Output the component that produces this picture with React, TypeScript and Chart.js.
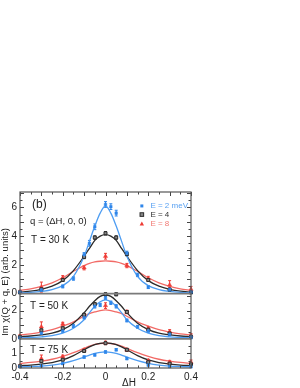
import React, { useEffect, useRef } from "react";
import { Chart, registerables } from "chart.js";

Chart.register(...registerables);

// ---------- data ----------
const X_TICKS = [-0.4, -0.2, 0, 0.2, 0.4];
const X_TICK_LABELS = ["-0.4", "-0.2", "0", "0.2", "0.4"];
const Y30_TICKS = [0, 2, 4, 6];
const Y50_TICKS = [0, 1, 2];
const Y75_TICKS = [0, 1];

// fit-curve sampling positions
const curveH = [-0.4, -0.35, -0.3, -0.25, -0.2, -0.15, -0.1, -0.075, -0.05, -0.025, 0, 0.025, 0.05, 0.075, 0.1, 0.15, 0.2, 0.25, 0.3, 0.35, 0.4];

// T = 30 K
const blue30H = [-0.4, -0.3, -0.2, -0.15, -0.1, -0.075, -0.05, 0, 0.025, 0.05, 0.1, 0.15, 0.2, 0.3, 0.4];
const blue30V = [0.1, 0.25, 0.5, 1.05, 2.7, 3.5, 4.65, 6.2, 6.05, 5.6, 2.8, 1.3, 0.45, 0.28, 0.11];
const blue30E = [0.08, 0.08, 0.1, 0.12, 0.15, 0.2, 0.2, 0.2, 0.2, 0.2, 0.15, 0.12, 0.1, 0.08, 0.08];
const black30H = [-0.4, -0.3, -0.2, -0.1, -0.05, 0, 0.05, 0.1, 0.2, 0.3, 0.4];
const black30V = [0.08, 0.3, 0.95, 2.55, 3.9, 4.2, 3.9, 2.75, 0.95, 0.28, 0.08];
const black30E = [0.08, 0.1, 0.1, 0.12, 0.12, 0.12, 0.12, 0.12, 0.1, 0.1, 0.08];
const red30H = [-0.4, -0.3, -0.2, -0.1, 0, 0.1, 0.2, 0.3, 0.4];
const red30V = [0.12, 0.45, 1.1, 1.8, 2.6, 1.95, 1.05, 0.6, 0.3];
const red30E = [0.1, 0.35, 0.15, 0.15, 0.2, 0.15, 0.15, 0.3, 0.2];
const blue30Fit = [0.05, 0.08, 0.15, 0.28, 0.55, 1.2, 2.6, 3.65, 4.7, 5.6, 6.1, 5.6, 4.7, 3.65, 2.6, 1.2, 0.55, 0.28, 0.15, 0.08, 0.05];
const black30Fit = [0.1, 0.17, 0.3, 0.52, 0.9, 1.6, 2.6, 3.15, 3.7, 4.0, 4.1, 4.0, 3.7, 3.15, 2.6, 1.6, 0.9, 0.52, 0.3, 0.17, 0.1];
const red30Fit = [0.22, 0.33, 0.5, 0.75, 1.1, 1.55, 1.95, 2.1, 2.2, 2.25, 2.27, 2.25, 2.2, 2.1, 1.95, 1.55, 1.1, 0.75, 0.5, 0.33, 0.22];

// T = 50 K
const blue50H = [-0.4, -0.3, -0.2, -0.15, -0.1, -0.05, -0.025, 0, 0.025, 0.05, 0.1, 0.15, 0.2, 0.3, 0.4];
const blue50V = [0.08, 0.4, 0.55, 0.9, 1.5, 2.3, 2.4, 2.9, 2.55, 2.3, 1.3, 0.85, 0.55, 0.3, 0.12];
const blue50E = [0.08, 0.08, 0.08, 0.1, 0.1, 0.12, 0.12, 0.12, 0.12, 0.12, 0.1, 0.1, 0.08, 0.08, 0.12];
const black50H = [-0.4, -0.3, -0.2, -0.1, -0.05, 0, 0.05, 0.1, 0.2, 0.3, 0.4];
const black50V = [0.12, 0.6, 0.75, 1.7, 2.45, 3.15, 3.15, 1.9, 0.65, 0.38, 0.15];
const black50E = [0.08, 0.1, 0.1, 0.1, 0.1, 0.1, 0.1, 0.1, 0.1, 0.08, 0.08];
const red50H = [-0.4, -0.3, -0.2, -0.1, 0, 0.1, 0.2, 0.3, 0.4];
const red50V = [0.2, 0.85, 1.05, 1.65, 2.35, 1.9, 0.75, 0.5, 0.25];
const red50E = [0.1, 0.35, 0.12, 0.12, 0.2, 0.12, 0.12, 0.15, 0.12];
const blue50Fit = [0.07, 0.1, 0.14, 0.22, 0.4, 0.75, 1.35, 1.85, 2.3, 2.62, 2.75, 2.62, 2.3, 1.85, 1.35, 0.75, 0.4, 0.22, 0.14, 0.1, 0.07];
const black50Fit = [0.15, 0.2, 0.28, 0.4, 0.65, 1.1, 1.85, 2.3, 2.7, 3.0, 3.1, 3.0, 2.7, 2.3, 1.85, 1.1, 0.65, 0.4, 0.28, 0.2, 0.15];
const red50Fit = [0.27, 0.35, 0.48, 0.65, 0.9, 1.2, 1.6, 1.78, 1.9, 2.0, 2.05, 2.0, 1.9, 1.78, 1.6, 1.2, 0.9, 0.65, 0.48, 0.35, 0.27];

// T = 75 K
const blue75H = [-0.4, -0.3, -0.2, -0.1, -0.05, 0, 0.05, 0.1, 0.2, 0.3, 0.4];
const blue75V = [0.1, 0.15, 0.3, 0.75, 0.9, 1.1, 1.25, 0.65, 0.2, 0.1, 0.1];
const blue75E = [0.06, 0.06, 0.06, 0.08, 0.08, 0.08, 0.08, 0.08, 0.06, 0.06, 0.08];
const black75H = [-0.4, -0.3, -0.2, -0.1, 0, 0.1, 0.2, 0.3, 0.4];
const black75V = [0.12, 0.47, 0.57, 1.17, 1.7, 1.25, 0.4, 0.3, 0.25];
const black75E = [0.06, 0.08, 0.08, 0.08, 0.08, 0.08, 0.08, 0.08, 0.08];
const red75H = [-0.4, -0.3, -0.2, -0.1, 0, 0.1, 0.2, 0.3, 0.4];
const red75V = [0.15, 0.64, 0.78, 1.24, 1.72, 1.24, 0.5, 0.4, 0.4];
const red75E = [0.08, 0.25, 0.1, 0.1, 0.12, 0.1, 0.1, 0.12, 0.15];
const blue75Fit = [0.08, 0.1, 0.13, 0.2, 0.32, 0.5, 0.75, 0.88, 1.0, 1.07, 1.1, 1.07, 1.0, 0.88, 0.75, 0.5, 0.32, 0.2, 0.13, 0.1, 0.08];
const black75Fit = [0.16, 0.2, 0.27, 0.37, 0.55, 0.85, 1.25, 1.45, 1.6, 1.69, 1.72, 1.69, 1.6, 1.45, 1.25, 0.85, 0.55, 0.37, 0.27, 0.2, 0.16];
const red75Fit = [0.32, 0.38, 0.47, 0.6, 0.8, 1.05, 1.35, 1.5, 1.62, 1.68, 1.7, 1.68, 1.62, 1.5, 1.35, 1.05, 0.8, 0.6, 0.47, 0.38, 0.32];

const LEGEND_LABELS = ["E = 2 meV", "E = 4", "E = 8"];
const PANEL_LABELS = ["T = 30 K", "T = 50 K", "T = 75 K"];

// ---------- styles ----------
const BLUE = "#2f86ea";
const BLUE_LINE = "#4e9df2";
const BLACK = "#2b2b2b";
const BLACK_FILL = "#8a8a8a";
const RED = "#ee3b34";
const RED_LINE = "#f26a66";
const FONT = "'Liberation Sans', Arial, sans-serif";

function pts(h: number[], v: number[]) {
  return h.map((x, i) => ({ x, y: v[i] }));
}

function pointSet(h: number[], v: number[], e: number[], axis: string, kind: string): any {
  const styles: any = {
    blue: { pointStyle: "rect", pointRadius: 1.8, backgroundColor: BLUE, borderColor: BLUE, borderWidth: 0.5, errColor: BLUE },
    black: { pointStyle: "rect", pointRadius: 2.1, backgroundColor: BLACK_FILL, borderColor: BLACK, borderWidth: 1, errColor: BLACK },
    red: { pointStyle: "triangle", pointRadius: 2.4, backgroundColor: RED, borderColor: RED, borderWidth: 0.5, errColor: RED },
  };
  return {
    data: pts(h, v),
    yAxisID: axis,
    showLine: false,
    clip: 5,
    errors: e,
    ...styles[kind],
  };
}

function fitSet(v: number[], axis: string, color: string): any {
  return {
    data: pts(curveH, v),
    yAxisID: axis,
    showLine: true,
    pointRadius: 0,
    borderColor: color,
    borderWidth: 1.3,
    cubicInterpolationMode: "monotone",
    clip: 1,
  };
}

const decor = {
  id: "decor",
  beforeDatasetsDraw(chart: any) {
    const { ctx, scales } = chart;
    ctx.save();
    chart.data.datasets.forEach((ds: any, i: number) => {
      if (!ds.errors) return;
      const meta = chart.getDatasetMeta(i);
      const ys = scales[ds.yAxisID];
      ctx.strokeStyle = ds.errColor;
      ctx.lineWidth = 1;
      meta.data.forEach((el: any, j: number) => {
        const v = ds.data[j].y;
        const e = ds.errors[j];
        const y1 = Math.max(ys.top - 3, ys.getPixelForValue(v + e));
        const y2 = ys.getPixelForValue(v - e);
        ctx.beginPath();
        ctx.moveTo(el.x, y1);
        ctx.lineTo(el.x, y2);
        ctx.moveTo(el.x - 1.5, y1);
        ctx.lineTo(el.x + 1.5, y1);
        ctx.moveTo(el.x - 1.5, y2);
        ctx.lineTo(el.x + 1.5, y2);
        ctx.stroke();
      });
    });
    ctx.restore();
  },
  afterDatasetsDraw(chart: any) {
    const { ctx, chartArea: a, scales } = chart;
    const xs = scales.x;
    const panels = [scales.y30, scales.y50, scales.y75];
    ctx.save();
    // tick marks on y axes
    ctx.strokeStyle = "#444";
    ctx.lineWidth = 1;
    panels.forEach((s: any) => {
      for (let v = 0; v <= s.max + 1e-9; v += 0.5) {
        const y = Math.round(s.getPixelForValue(v)) + 0.5;
        if (y < s.top + 1 || y > s.bottom - 1) continue;
        const len = Math.abs(v - Math.round(v)) < 1e-6 ? 4 : 2.5;
        ctx.beginPath();
        ctx.moveTo(a.left, y);
        ctx.lineTo(a.left + len, y);
        ctx.moveTo(a.right, y);
        ctx.lineTo(a.right - len, y);
        ctx.stroke();
      }
    });
    // tick marks on x axis (top & bottom)
    for (let k = -8; k <= 8; k++) {
      const v = k * 0.05;
      const x = Math.round(xs.getPixelForValue(v)) + 0.5;
      const len = k % 2 === 0 ? 4 : 2.5;
      ctx.beginPath();
      ctx.moveTo(x, a.bottom);
      ctx.lineTo(x, a.bottom - len);
      ctx.moveTo(x, a.top);
      ctx.lineTo(x, a.top + len);
      ctx.stroke();
    }
    // panel separators
    ctx.strokeStyle = "#7a7a7a";
    ctx.lineWidth = 1.6;
    [scales.y30.bottom, scales.y50.bottom].forEach((y: number) => {
      ctx.beginPath();
      ctx.moveTo(a.left, y);
      ctx.lineTo(a.right, y);
      ctx.stroke();
    });
    // frame
    ctx.strokeStyle = "#555";
    ctx.lineWidth = 1.2;
    ctx.strokeRect(a.left, a.top, a.right - a.left, a.bottom - a.top);

    // annotations
    ctx.fillStyle = "#222";
    ctx.textBaseline = "middle";
    ctx.textAlign = "left";
    ctx.font = `12px ${FONT}`;
    ctx.fillText("(b)", a.left + 12, scales.y30.getPixelForValue(6.2));
    ctx.font = `9.5px ${FONT}`;
    ctx.fillText("q = (ΔH, 0, 0)", a.left + 10, scales.y30.getPixelForValue(5.0));
    ctx.font = `10px ${FONT}`;
    ctx.fillText(PANEL_LABELS[0], a.left + 11, scales.y30.getPixelForValue(3.7));
    ctx.fillText(PANEL_LABELS[1], a.left + 10, scales.y50.getPixelForValue(2.3));
    ctx.fillText(PANEL_LABELS[2], a.left + 10, scales.y75.getPixelForValue(1.25));

    // legend
    const lx = xs.getPixelForValue(0.17);
    const tx = xs.getPixelForValue(0.21);
    const ly = [scales.y30.getPixelForValue(6.1), scales.y30.getPixelForValue(5.5), scales.y30.getPixelForValue(4.85)];
    ctx.font = `8px ${FONT}`;
    ctx.fillStyle = BLUE;
    ctx.fillRect(lx - 1.5, ly[0] - 1.5, 3, 3);
    ctx.fillStyle = BLACK_FILL;
    ctx.strokeStyle = BLACK;
    ctx.lineWidth = 1;
    ctx.fillRect(lx - 1.8, ly[1] - 1.8, 3.6, 3.6);
    ctx.strokeRect(lx - 1.8, ly[1] - 1.8, 3.6, 3.6);
    ctx.fillStyle = RED;
    ctx.beginPath();
    ctx.moveTo(lx, ly[2] - 2.4);
    ctx.lineTo(lx + 2.2, ly[2] + 1.6);
    ctx.lineTo(lx - 2.2, ly[2] + 1.6);
    ctx.closePath();
    ctx.fill();
    ctx.fillStyle = "#5aa2f2";
    ctx.fillText(LEGEND_LABELS[0], tx, ly[0]);
    ctx.fillStyle = "#333";
    ctx.fillText(LEGEND_LABELS[1], tx, ly[1]);
    ctx.fillStyle = "#f27a74";
    ctx.fillText(LEGEND_LABELS[2], tx, ly[2]);

    // axis titles
    ctx.fillStyle = "#222";
    ctx.font = `10px ${FONT}`;
    ctx.textAlign = "center";
    ctx.fillText("ΔH", xs.getPixelForValue(0.11), a.bottom + 15);
    ctx.save();
    ctx.font = `9.5px ${FONT}`;
    ctx.translate(5.5, (a.top + a.bottom) / 2 + 2);
    ctx.rotate(-Math.PI / 2);
    ctx.fillText("Im χ(Q + q, E) (arb. units)", 0, 0);
    ctx.restore();
    ctx.restore();
  },
};

function yScale(max: number, ticks: number[], weight: number): any {
  return {
    type: "linear",
    position: "left",
    stack: "panels",
    stackWeight: weight,
    min: 0,
    max,
    grid: { display: false, drawTicks: false },
    border: { display: false },
    afterBuildTicks: (s: any) => {
      s.ticks = ticks.map((v) => ({ value: v }));
    },
    afterFit: (s: any) => {
      s.width = 20;
    },
    ticks: {
      padding: 3,
      color: "#222",
      font: { size: 10, family: FONT },
      callback: (v: any) => String(v),
    },
  };
}

export default function App() {
  const ref = useRef<HTMLCanvasElement>(null);
  useEffect(() => {
    if (!ref.current) return;
    const chart = new Chart(ref.current, {
      type: "scatter",
      data: {
        datasets: [
          pointSet(blue30H, blue30V, blue30E, "y30", "blue"),
          pointSet(black30H, black30V, black30E, "y30", "black"),
          pointSet(red30H, red30V, red30E, "y30", "red"),
          pointSet(blue50H, blue50V, blue50E, "y50", "blue"),
          pointSet(black50H, black50V, black50E, "y50", "black"),
          pointSet(red50H, red50V, red50E, "y50", "red"),
          pointSet(blue75H, blue75V, blue75E, "y75", "blue"),
          pointSet(black75H, black75V, black75E, "y75", "black"),
          pointSet(red75H, red75V, red75E, "y75", "red"),
          fitSet(blue30Fit, "y30", BLUE_LINE),
          fitSet(black30Fit, "y30", BLACK),
          fitSet(red30Fit, "y30", RED_LINE),
          fitSet(blue50Fit, "y50", BLUE_LINE),
          fitSet(black50Fit, "y50", BLACK),
          fitSet(red50Fit, "y50", RED_LINE),
          fitSet(blue75Fit, "y75", BLUE_LINE),
          fitSet(black75Fit, "y75", BLACK),
          fitSet(red75Fit, "y75", RED_LINE),
        ],
      },
      options: {
        animation: false,
        responsive: false,
        maintainAspectRatio: false,
        layout: { padding: { left: 0, top: 192, right: 109, bottom: 0 } },
        plugins: { legend: { display: false }, tooltip: { enabled: false } },
        scales: {
          x: {
            type: "linear",
            position: "bottom",
            min: -0.4,
            max: 0.4,
            grid: { display: false, drawTicks: false },
            border: { display: false },
            afterBuildTicks: (s: any) => {
              s.ticks = X_TICKS.map((v) => ({ value: v }));
            },
            afterFit: (s: any) => {
              s.height = 20;
            },
            ticks: {
              padding: 3,
              maxRotation: 0,
              autoSkip: false,
              color: "#222",
              font: { size: 10, family: FONT },
              callback: (v: any) => {
                const i = X_TICKS.findIndex((t) => Math.abs(t - Number(v)) < 1e-9);
                return i >= 0 ? X_TICK_LABELS[i] : "";
              },
            },
          },
          // stacked panels: listed bottom-first so that T = 30 K ends up on top
          y75: yScale(2.0, Y75_TICKS, 29),
          y50: yScale(3.2, Y50_TICKS, 45),
          y30: yScale(7.07, Y30_TICKS, 101),
        },
      },
      plugins: [decor],
    } as any);
    return () => chart.destroy();
  }, []);
  return (
    <div style={{ position: "absolute", left: 0, top: 0, width: 300, height: 388, background: "#fff" }}>
      <canvas ref={ref} width={300} height={388} style={{ display: "block" }} />
    </div>
  );
}
